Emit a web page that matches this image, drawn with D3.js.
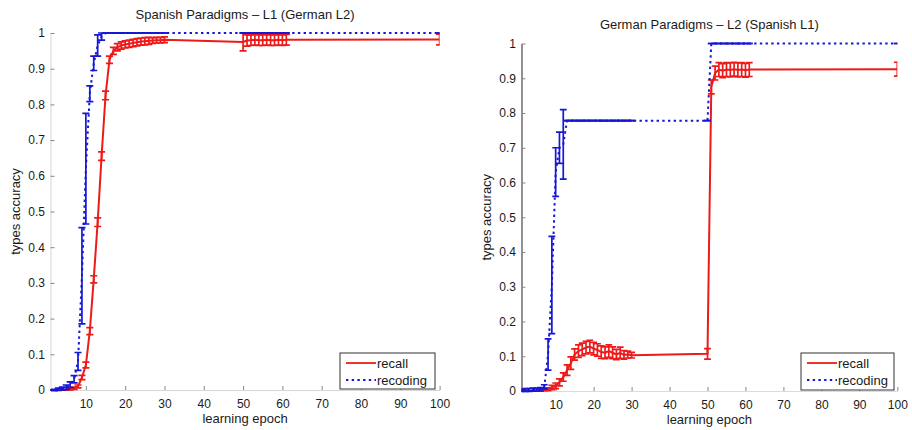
<!DOCTYPE html>
<html>
<head>
<meta charset="utf-8">
<script src="https://cdn.jsdelivr.net/npm/d3@7"></script>
<style>
  body { margin: 0; background: #fff; }
  text { font-family: "Liberation Sans", Arial, Helvetica, sans-serif; fill: #1a1a1a; }
</style>
</head>
<body>
<svg id="chart" width="912" height="430"></svg>
<script>
// Learning epochs at which both measures were recorded
const epochs = [1,2,3,4,5,6,7,8,9,10,11,12,13,14,15,16,17,18,19,20,21,22,23,24,25,26,27,28,29,30,
                50,51,52,53,54,55,56,57,58,59,60,61,100];

// Spanish paradigms (L1, German L2): mean accuracy and error
const spanishRecall = [0,0,0,0,0,0.002,0.005,
  0.01,0.035,0.07,0.165,0.31,0.47,0.655,0.825,0.925,0.95,
  0.96,0.965,0.968,0.97,0.972,0.974,0.976,0.977,0.978,0.979,0.98,0.98,0.981,
  0.975,0.979,0.98,0.981,0.98,0.98,0.981,0.98,0.98,0.981,0.98,0.981,
  0.982];
const spanishRecallErr = [0,0,0,0,0,0.002,0.003,
  0.004,0.006,0.008,0.01,0.01,0.012,0.012,0.012,0.01,0.01,
  0.01,0.01,0.01,0.01,0.01,0.01,0.01,0.01,0.01,0.008,0.008,0.008,0.008,
  0.025,0.016,0.015,0.015,0.015,0.015,0.015,0.015,0.015,0.015,0.015,0.015,
  0.015];
const spanishRecoding = [0,0,0.002,0.004,0.008,0.015,0.03,
  0.08,0.32,0.62,0.83,0.915,0.965,0.99,1,1,1,
  1,1,1,1,1,1,1,1,1,1,1,1,1,
  1,1,1,1,1,1,1,1,1,1,1,1,
  1];
const spanishRecodingErr = [0,0.002,0.003,0.004,0.006,0.008,0.01,
  0.025,0.135,0.155,0.022,0.02,0.03,0.01,0,0,0,
  0,0,0,0,0,0,0,0,0,0,0,0,0,
  0,0,0,0,0,0,0,0,0,0,0,0,
  0];

// German paradigms (L2, Spanish L1): mean accuracy and error
const germanRecall = [0,0,0,0,0.001,0.002,0.003,
  0.005,0.01,0.015,0.025,0.04,0.06,0.08,0.105,0.115,0.12,
  0.125,0.128,0.122,0.118,0.112,0.11,0.115,0.11,0.105,0.11,0.104,0.105,0.103,
  0.107,0.875,0.915,0.925,0.922,0.925,0.924,0.926,0.924,0.925,0.923,0.925,
  0.926];
const germanRecallErr = [0,0,0,0,0.001,0.002,0.002,
  0.004,0.006,0.008,0.01,0.012,0.015,0.018,0.016,0.018,0.018,
  0.018,0.018,0.018,0.018,0.018,0.017,0.018,0.017,0.015,0.016,0.012,0.01,0.008,
  0.015,0.02,0.02,0.02,0.02,0.02,0.02,0.02,0.02,0.02,0.02,0.02,
  0.02];
const germanRecoding = [0.002,0.003,0.003,0.004,0.004,0.005,0.012,
  0.105,0.305,0.63,0.70,0.71,0.778,0.778,0.778,0.778,0.778,
  0.778,0.778,0.778,0.778,0.778,0.778,0.778,0.778,0.778,0.778,0.778,0.778,0.778,
  0.778,1,1,1,1,1,1,1,1,1,1,1,
  1];
const germanRecodingErr = [0.003,0.004,0.004,0.004,0.004,0.005,0.006,
  0.045,0.14,0.07,0.045,0.10,0,0,0,0,0,
  0,0,0,0,0,0,0,0,0,0,0,0,0,
  0,0,0,0,0,0,0,0,0,0,0,0,
  0];

const xTicks = [10,20,30,40,50,60,70,80,90,100];
const yTicks = [0,0.1,0.2,0.3,0.4,0.5,0.6,0.7,0.8,0.9,1];
const yTickLabels = ["0","0.1","0.2","0.3","0.4","0.5","0.6","0.7","0.8","0.9","1"];
const titles = ["Spanish Paradigms \u2013 L1 (German L2)", "German Paradigms \u2013 L2 (Spanish L1)"];
const seriesNames = ["recall", "recoding"];
const xLabel = "learning epoch";
const yLabel = "types accuracy";

const RED = "#ec1a1a";
const BLUE = "#1616d6";
const DOTS = "2.4,3.3";

const panels = [
  { title: titles[0],
    series: [
      { mean: spanishRecall, err: spanishRecallErr, color: RED, dash: null },
      { mean: spanishRecoding, err: spanishRecodingErr, color: BLUE, dash: DOTS }
    ],
    box: { left: 50.5, right: 439.6, top: 33, bottom: 390 },
    yAxisColor: "#d6d6d6", xAxisColor: "#d6d6d6",
    legend: { x: 340, y: 353, w: 95, h: 36 } },
  { title: titles[1],
    series: [
      { mean: germanRecall, err: germanRecallErr, color: RED, dash: null },
      { mean: germanRecoding, err: germanRecodingErr, color: BLUE, dash: DOTS }
    ],
    box: { left: 521.5, right: 897.3, top: 43.5, bottom: 391 },
    yAxisColor: "#222", xAxisColor: "#dcdcdc",
    legend: { x: 801, y: 353, w: 93, h: 37 } }
];

const svg = d3.select("#chart");
const capHalf = 0.9; // error-bar cap half width, in epochs

panels.forEach((p, pi) => {
  const b = p.box;
  const x = d3.scaleLinear().domain([1, 100]).range([b.left, b.right]);
  const y = d3.scaleLinear().domain([0, 1]).range([b.bottom, b.top]);
  const g = svg.append("g");

  const clipId = "clip" + pi;
  svg.append("clipPath").attr("id", clipId)
    .append("rect")
    .attr("x", b.left).attr("y", b.top - 6)
    .attr("width", b.right - b.left).attr("height", b.bottom - b.top + 12);

  // axes, ticks pointing inward
  const xAxis = d3.axisBottom(x).tickValues(xTicks).tickFormat(d3.format("d"))
    .tickSizeInner(-4).tickSizeOuter(0).tickPadding(9);
  const yAxis = d3.axisLeft(y).tickValues(yTicks).tickFormat((d, i) => yTickLabels[i])
    .tickSizeInner(-4).tickSizeOuter(0).tickPadding(5.5);

  const gx = g.append("g").attr("transform", `translate(0,${b.bottom})`).call(xAxis);
  gx.select(".domain").attr("stroke", p.xAxisColor);
  gx.selectAll(".tick line").attr("stroke", "#888");
  gx.selectAll(".tick text").attr("font-size", 12).attr("font-family", null);

  const gy = g.append("g").attr("transform", `translate(${b.left},0)`).call(yAxis);
  gy.select(".domain").attr("stroke", p.yAxisColor);
  gy.selectAll(".tick line").attr("stroke", "#888");
  gy.selectAll(".tick text").attr("font-size", 12).attr("font-family", null);

  // title and axis labels
  const cx = (b.left + b.right) / 2, cy = (b.top + b.bottom) / 2;
  g.append("text").attr("x", cx).attr("y", b.top - 14.5)
    .attr("text-anchor", "middle").attr("font-size", 13).text(p.title);
  g.append("text").attr("x", cx).attr("y", b.bottom + 33)
    .attr("text-anchor", "middle").attr("font-size", 13).text(xLabel);
  g.append("text")
    .attr("transform", `translate(${b.left - 31},${cy}) rotate(-90)`)
    .attr("text-anchor", "middle").attr("font-size", 13).text(yLabel);

  // data: error bars and mean lines
  const plot = g.append("g").attr("clip-path", `url(#${clipId})`);
  p.series.forEach(s => {
    const pts = epochs.map((e, i) => ({ e, m: s.mean[i], d: s.err[i] }));
    const eg = plot.append("g").attr("stroke", s.color).attr("stroke-width", 1.7).attr("fill", "none");
    eg.selectAll("line.v").data(pts).join("line").attr("class", "v")
      .attr("x1", d => x(d.e)).attr("x2", d => x(d.e))
      .attr("y1", d => y(d.m - d.d)).attr("y2", d => y(d.m + d.d));
    eg.selectAll("line.lo").data(pts).join("line").attr("class", "lo")
      .attr("x1", d => x(d.e - capHalf)).attr("x2", d => x(d.e + capHalf))
      .attr("y1", d => y(d.m - d.d)).attr("y2", d => y(d.m - d.d));
    eg.selectAll("line.hi").data(pts).join("line").attr("class", "hi")
      .attr("x1", d => x(d.e - capHalf)).attr("x2", d => x(d.e + capHalf))
      .attr("y1", d => y(d.m + d.d)).attr("y2", d => y(d.m + d.d));

    const line = d3.line().x(d => x(d.e)).y(d => y(d.m));
    plot.append("path").datum(pts)
      .attr("d", line).attr("fill", "none")
      .attr("stroke", s.color).attr("stroke-width", 2)
      .attr("stroke-dasharray", s.dash);
  });

  // legend
  const L = p.legend;
  const lg = g.append("g").attr("transform", `translate(${L.x},${L.y})`);
  lg.append("rect").attr("width", L.w).attr("height", L.h)
    .attr("fill", "#fff").attr("stroke", "#333").attr("stroke-width", 1);
  p.series.forEach((s, i) => {
    const ry = 10 + i * 17;
    lg.append("line").attr("x1", 6).attr("x2", 36).attr("y1", ry).attr("y2", ry)
      .attr("stroke", s.color).attr("stroke-width", 1.8).attr("stroke-dasharray", s.dash);
    lg.append("text").attr("x", 37).attr("y", ry + 4.5)
      .attr("font-size", 13).text(seriesNames[i]);
  });
});
</script>
</body>
</html>
